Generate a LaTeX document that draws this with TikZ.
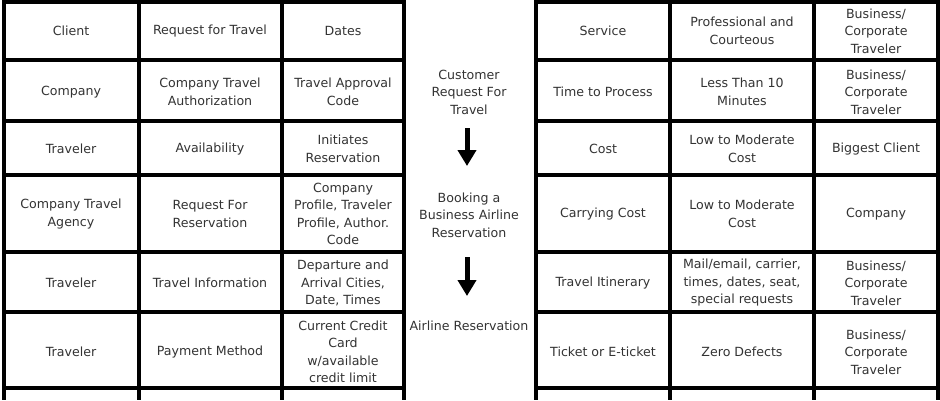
\documentclass[tikz,border=0pt]{standalone}
\usepackage{fontspec}
\setmainfont{DejaVu Sans}
\usetikzlibrary{arrows.meta}
\begin{document}
\begin{tikzpicture}[x=1pt,y=-1pt,
  cell/.style={align=center,text=black!80,font=\fontsize{12.6}{17.5}\selectfont},
  rule/.style={line width=4.5pt},
  downarrow/.style={line width=5pt,-{Triangle[width=18pt,length=16pt]}}]
\useasboundingbox (0,0) rectangle (940,400);
\fill[white] (0,0) rectangle (940,400);
% left table
\draw[rule] (2,2)--(406,2);
\draw[rule] (2,60)--(406,60);
\draw[rule] (2,121)--(406,121);
\draw[rule] (2,175)--(406,175);
\draw[rule] (2,252)--(406,252);
\draw[rule] (2,312)--(406,312);
\draw[rule] (2,388)--(406,388);
\draw[rule] (4,0)--(4,400);
\draw[rule] (139,0)--(139,400);
\draw[rule] (282,0)--(282,400);
\draw[rule] (404,0)--(404,400);
% right table
\draw[rule] (534,2)--(940,2);
\draw[rule] (534,60)--(940,60);
\draw[rule] (534,121)--(940,121);
\draw[rule] (534,175)--(940,175);
\draw[rule] (534,252)--(940,252);
\draw[rule] (534,312)--(940,312);
\draw[rule] (534,388)--(940,388);
\draw[rule] (536,0)--(536,400);
\draw[rule] (670,0)--(670,400);
\draw[rule] (814,0)--(814,400);
\draw[rule] (938,0)--(938,400);
% left cells
\node[cell] (l11) at (71,31) {Client};
\node[cell] (l12) at (210,31) {Request for Travel};
\node[cell] (l13) at (343,31) {Dates};
\node[cell] (l21) at (71,92) {Company};
\node[cell] (l22) at (210,92) {Company Travel\\Authorization};
\node[cell] (l23) at (343,92) {Travel Approval\\Code};
\node[cell] (l31) at (71,149) {Traveler};
\node[cell] (l32) at (210,149) {Availability};
\node[cell] (l33) at (343,149) {Initiates\\Reservation};
\node[cell] (l41) at (71,214) {Company Travel\\Agency};
\node[cell] (l42) at (210,214) {Request For\\Reservation};
\node[cell] (l43) at (343,214) {Company\\Profile, Traveler\\Profile, Author.\\Code};
\node[cell] (l51) at (71,283) {Traveler};
\node[cell] (l52) at (210,283) {Travel Information};
\node[cell] (l53) at (343,283) {Departure and\\Arrival Cities,\\Date, Times};
\node[cell] (l61) at (71,352) {Traveler};
\node[cell] (l62) at (210,352) {Payment Method};
\node[cell] (l63) at (343,352) {Current Credit\\Card\\w/available\\credit limit};
% middle
\node[cell] (step1) at (469,92) {Customer\\Request For\\Travel};
\node[cell] (step2) at (469,215) {Booking a\\Business Airline\\Reservation};
\node[cell] (step3) at (469,326) {Airline Reservation};
\draw[downarrow] (467,128)--(467,166);
\draw[downarrow] (467,257)--(467,296);
% right cells
\node[cell] (r11) at (603,31) {Service};
\node[cell] (r12) at (742,31) {Professional and\\Courteous};
\node[cell] (r13) at (876,31) {Business/\\Corporate\\Traveler};
\node[cell] (r21) at (603,92) {Time to Process};
\node[cell] (r22) at (742,92) {Less Than 10\\Minutes};
\node[cell] (r23) at (876,92) {Business/\\Corporate\\Traveler};
\node[cell] (r31) at (603,149) {Cost};
\node[cell] (r32) at (742,149) {Low to Moderate\\Cost};
\node[cell] (r33) at (876,149) {Biggest Client};
\node[cell] (r41) at (603,214) {Carrying Cost};
\node[cell] (r42) at (742,214) {Low to Moderate\\Cost};
\node[cell] (r43) at (876,214) {Company};
\node[cell] (r51) at (603,283) {Travel Itinerary};
\node[cell] (r52) at (742,283) {Mail/email, carrier,\\times, dates, seat,\\special requests};
\node[cell] (r53) at (876,283) {Business/\\Corporate\\Traveler};
\node[cell] (r61) at (603,352) {Ticket or E-ticket};
\node[cell] (r62) at (742,352) {Zero Defects};
\node[cell] (r63) at (876,352) {Business/\\Corporate\\Traveler};
\end{tikzpicture}
\end{document}
